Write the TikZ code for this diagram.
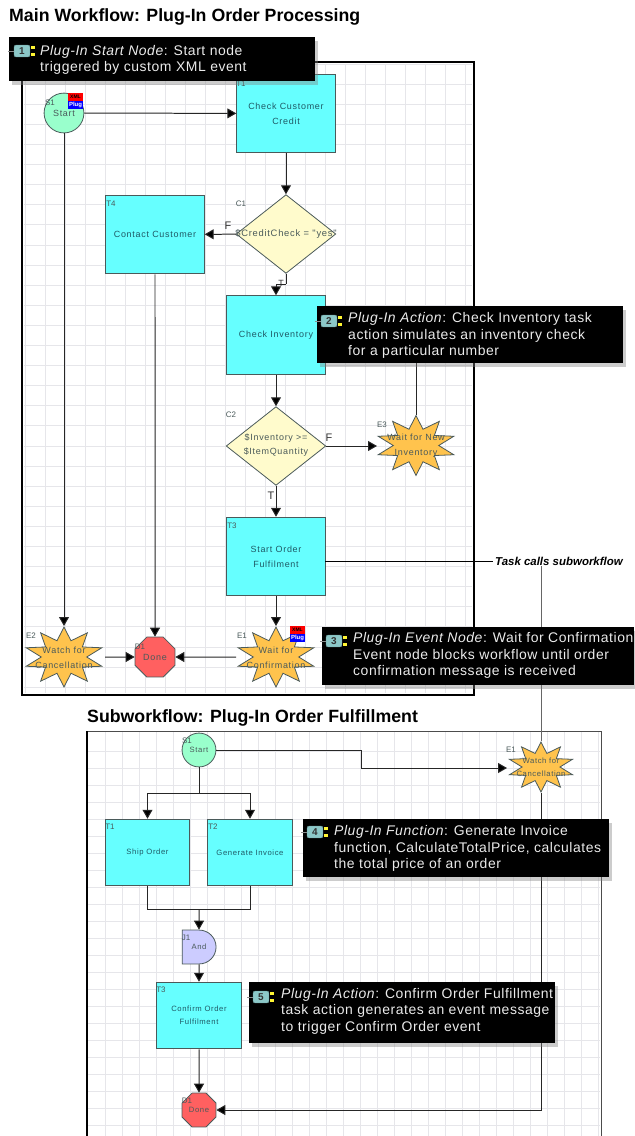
\documentclass[tikz,border=0pt]{standalone}
\usepackage{fontspec}
\setmainfont{Liberation Sans}
\newfontfamily\flowfont[LetterSpace=8]{Liberation Sans}
\newfontfamily\notefont[LetterSpace=4]{Liberation Sans}
\usetikzlibrary{arrows.meta,shapes.geometric,shapes.misc,shadows}
\definecolor{taskcyan}{HTML}{66FFFF}
\definecolor{startgreen}{HTML}{99FFCC}
\definecolor{condyellow}{HTML}{FFFBCC}
\definecolor{eventgold}{HTML}{FFC34D}
\definecolor{donered}{HTML}{FF6060}
\definecolor{joinblue}{HTML}{CCCCFF}
\definecolor{edgegray}{HTML}{4A5A5A}
\definecolor{inkteal}{HTML}{1F5A66}
\definecolor{gridgray}{HTML}{E6E6EA}
\definecolor{tagteal}{HTML}{8CC8C8}
\begin{document}
\begin{tikzpicture}[x=1bp, y=-1bp,
  task/.style = {draw=edgegray, fill=taskcyan, line width=.8, minimum width=99, minimum height=79, inner sep=0, align=center, text=inkteal, font=\flowfont\fontsize{9}{15}\selectfont},
  subtask/.style = {task, minimum width=85, minimum height=67, font=\flowfont\fontsize{7.7}{13}\selectfont},
  start/.style = {draw=edgegray, fill=startgreen, line width=.8, circle, minimum size=40, inner sep=0, text=edgegray, font=\flowfont\fontsize{9}{11}\selectfont},
  cond/.style = {draw=edgegray, fill=condyellow, line width=.8, diamond, minimum width=100, minimum height=79, inner sep=0},
  condtext/.style = {align=center, inner sep=0, text=edgegray, font=\flowfont\fontsize{9}{14}\selectfont},
  burst/.style = {draw=edgegray, fill=eventgold, line width=.8, star, star points=10, star point ratio=1.75, minimum size=60, inner sep=0, xscale=1.33, transform shape},
  bursttext/.style = {align=center, inner sep=0, text=edgegray, font=\flowfont\fontsize{9}{15}\selectfont},
  done/.style = {draw=edgegray, fill=donered, line width=.8, regular polygon, regular polygon sides=8, minimum size=43.3, inner sep=0, text=edgegray, font=\flowfont\fontsize{9}{11}\selectfont},
  idtag/.style = {inner sep=0, text=edgegray, font=\fontsize{8}{9}\selectfont},
  flag/.style = {inner sep=0, text=black!80, font=\fontsize{11}{12}\selectfont},
  flow/.style = {draw=black!85, line width=1, -{Triangle[length=9,width=10,fill=black]}},
  plain/.style = {draw=black!85, line width=1},
  title/.style = {anchor=west, inner sep=0, font=\bfseries\fontsize{17.8}{20}\selectfont},
  note/.style = {fill=black, anchor=north west, inner sep=0, drop shadow={shadow xshift=3, shadow yshift=4, opacity=.4}},
  notetext/.style = {anchor=north west, align=left, inner sep=0, text=white!92!black, font=\notefont\fontsize{14}{16.5}\selectfont},
  numtag/.style = {fill=tagteal, draw=tagteal!70!black, rounded corners=2, minimum width=16, minimum height=12, inner sep=0, text=black!80, font=\bfseries\fontsize{10}{11}\selectfont},
  tagdash/.style = {fill=yellow!80!white, minimum width=5, minimum height=3, inner sep=0},
  redbadge/.style = {fill=red, minimum width=16, minimum height=8, inner sep=0, text=black, font=\bfseries\fontsize{5}{5}\selectfont},
  bluebadge/.style = {fill=blue, minimum width=16, minimum height=8, inner sep=0, text=white, font=\bfseries\fontsize{6}{6}\selectfont}]
  \useasboundingbox (0,0) rectangle (635,1136);
  \fill[white] (0,0) rectangle (635,1136);
  % main workflow grid
  \foreach \gx in {25,45,...,465}
    \draw[gridgray, line width=.7] (\gx,64) -- (\gx,693);
  \foreach \gy in {64,84.1,...,690}
    \draw[gridgray, line width=.7] (24,\gy) -- (472,\gy);
  % subworkflow grid
  \foreach \gx in {105,122,...,600}
    \draw[gridgray, line width=.7] (\gx,732) -- (\gx,1136);
  \foreach \gy in {751,768,...,1136}
    \draw[gridgray, line width=.7] (88,\gy) -- (600,\gy);
  \draw[line width=2.6] (22,62) rectangle (474,695);
  \draw[black!70, line width=.9] (87,731) -- (601,731) -- (601,1136);
  \draw[line width=2.2] (87,731) -- (87,1136);
  \node[title] (maintitle) at (9,17) {Main Workflow: Plug-In Order Processing};
  \node[title] (subtitle) at (87,717.5) {Subworkflow: Plug-In Order Fulfillment};

  % main workflow nodes
  \node[start] (s1) at (64,113) {Start};
  \node[task] (t1) at (286,113.5) {Check Customer\\Credit};
  \node[task] (t4) at (155,234.5) {Contact Customer};
  \node[cond] (c1) at (286,234) {};
  \node[condtext, font=\flowfont\fontsize{9.4}{14}\selectfont] (c1text) at (286,234) {\$CreditCheck = "yes"};
  \node[task] (t2) at (276,335) {Check Inventory};
  \node[cond] (c2) at (276,446) {};
  \node[condtext] (c2text) at (276,445) {\$Inventory >=\\\$ItemQuantity};
  \node[burst] (e3) at (416,445.5) {};
  \node[bursttext] (e3text) at (416,445.5) {Wait for New\\Inventory};
  \node[task] (t3) at (276,556.5) {Start Order\\Fulfilment};
  \node[burst] (e1) at (276,657) {};
  \node[bursttext] (e1text) at (276,657.5) {Wait for\\Confirmation};
  \node[done] (d1) at (155,657) {Done};
  \node[burst] (e2) at (64,657) {};
  \node[bursttext] (e2text) at (64,657.5) {Watch for\\Cancellation};
  \node[redbadge] (s1red) at (75.5,97) {XML};
  \node[bluebadge] (s1blue) at (75.5,105) {Plug};
  \node[redbadge] (e1red) at (297.5,630) {XML};
  \node[bluebadge] (e1blue) at (297.5,638) {Plug};
  \node[idtag] (s1id) at (50,103) {S1};
  \node[idtag] (t1id) at (241,84) {T1};
  \node[idtag] (t4id) at (111,204) {T4};
  \node[idtag] (c1id) at (241,204) {C1};
  \node[idtag] (c2id) at (231,415) {C2};
  \node[idtag] (e3id) at (382,425) {E3};
  \node[idtag] (t3id) at (232,526) {T3};
  \node[idtag] (e1id) at (242,636) {E1};
  \node[idtag] (d1id) at (140,647) {D1};
  \node[idtag] (e2id) at (31,636) {E2};
  \node[flag] (c1f) at (228,226) {F};
  \node[flag, font=\fontsize{9}{10}\selectfont] (c1t) at (281,283) {T};
  \node[flag] (c2f) at (329,438) {F};
  \node[flag] (c2t) at (271,496) {T};

  % main workflow connectors
  \coordinate (c1bend) at (286,284);
  \coordinate (e3in) at (377,446);
  \coordinate (e2out) at (105,657);
  \coordinate (e1out) at (236,657);
  \coordinate (t3out) at (325,561);
  \draw[flow] (s1) -- (t1);
  \draw[flow] (s1) -- (e2.north);
  \draw[flow] (t1) -- (c1.north);
  \draw[flow] (c1) -- (t4);
  \draw[plain] (c1.south) -- (c1bend);
  \draw[flow] (c1bend) -| (t2);
  \draw[flow] (t2) -- (c2.north);
  \draw[flow] (c2.east) -- (e3in);
  \draw[plain] (e3.north) |- (t2);
  \draw[flow] (c2.south) -- (t3);
  \draw[flow] (t3) -- (e1.north);
  \draw[flow] (t4) -- (d1);
  \draw[flow] (e2out) -- (d1);
  \draw[flow] (e1out) -- (d1);

  % subworkflow nodes
  \node[start, minimum size=34, font=\flowfont\fontsize{7.7}{9}\selectfont] (ss1) at (199,750) {Start};
  \node[burst, minimum size=50] (se1) at (541,767) {};
  \node[bursttext, font=\flowfont\fontsize{7.7}{13}\selectfont] (se1text) at (541,767.5) {Watch for\\Cancellation};
  \node[subtask] (st1) at (147.5,852.5) {Ship Order};
  \node[subtask] (st2) at (250,852.5) {Generate Invoice};
  \node[draw=edgegray, fill=joinblue, line width=.8, rounded rectangle, rounded rectangle left arc=none, minimum width=34, minimum height=34, inner sep=0, text=edgegray, font=\flowfont\fontsize{7.7}{9}\selectfont] (sj1) at (199,947) {And};
  \node[subtask] (st3) at (199,1015.5) {Confirm Order\\Fulfilment};
  \node[done, minimum size=36.8, font=\flowfont\fontsize{7.7}{9}\selectfont] (sd1) at (199,1110) {Done};
  \node[idtag] (ss1id) at (187,741) {S1};
  \node[idtag] (se1id) at (511,750) {E1};
  \node[idtag] (st1id) at (110,827) {T1};
  \node[idtag] (st2id) at (213,827) {T2};
  \node[idtag] (sj1id) at (186,938) {J1};
  \node[idtag] (st3id) at (161,990) {T3};
  \node[idtag] (sd1id) at (187,1101) {D1};
  \node[anchor=west, inner xsep=2, inner ysep=1, font=\bfseries\itshape\fontsize{11.5}{13}\selectfont] (taskcalls) at (493,561) {Task calls subworkflow};

  % subworkflow connectors
  \coordinate (startbend) at (361,768);
  \coordinate (se1in) at (507,768);
  \coordinate (fork) at (199,793);
  \coordinate (merge) at (199,909);
  \draw[black, line width=.7] (t3out) -- (taskcalls.west);
  \draw[black!60, line width=.9] (taskcalls.south -| se1) -- (se1.north);
  \draw[plain] (ss1) -| (startbend);
  \draw[flow] (startbend) -- (se1in);
  \draw[plain] (ss1) -- (fork);
  \draw[flow] (fork) -| (st1);
  \draw[flow] (fork) -| (st2);
  \draw[plain] (st1) |- (merge);
  \draw[plain] (st2) |- (merge);
  \draw[flow] (merge) -- (sj1);
  \draw[flow] (sj1) -- (st3);
  \draw[flow] (st3) -- (sd1);
  \draw[flow] (se1.south) |- (sd1);

  % callouts
  \node[note, minimum width=307, minimum height=44] (note1) at (9,37) {};
  \node[note, minimum width=307, minimum height=57] (note2) at (317,306) {};
  \node[note, minimum width=313, minimum height=58] (note3) at (322,627) {};
  \node[note, minimum width=307, minimum height=58] (note4) at (303,819) {};
  \node[note, minimum width=307, minimum height=61] (note5) at (249,982) {};
  \node[notetext] (note1text) at (40,45) {\textit{Plug-In Start Node}: Start node\\triggered by custom XML event};
  \node[notetext] (note2text) at (348,312.5) {\textit{Plug-In Action}: Check Inventory task\\action simulates an inventory check\\for a particular number};
  \node[notetext] (note3text) at (353,632.5) {\textit{Plug-In Event Node}: Wait for Confirmation\\Event node blocks workflow until order\\confirmation message is received};
  \node[notetext] (note4text) at (334,825.5) {\textit{Plug-In Function}: Generate Invoice\\function, CalculateTotalPrice, calculates\\the total price of an order};
  \node[notetext] (note5text) at (281,988) {\textit{Plug-In Action}: Confirm Order Fulfillment\\task action generates an event message\\to trigger Confirm Order event};
  \foreach \n/\tx/\ty in {1/22/51, 2/329/321, 3/334/641, 4/315/832, 5/261/997} {
    \draw[black!45, line width=1] (\tx-14,\ty) -- (\tx-8,\ty);
    \node[numtag] (tag\n) at (\tx,\ty) {\n};
    \node[tagdash] (tag\n up) at (\tx+11,\ty-3.5) {};
    \node[tagdash] (tag\n down) at (\tx+11,\ty+3.5) {};
  }
\end{tikzpicture}
\end{document}
